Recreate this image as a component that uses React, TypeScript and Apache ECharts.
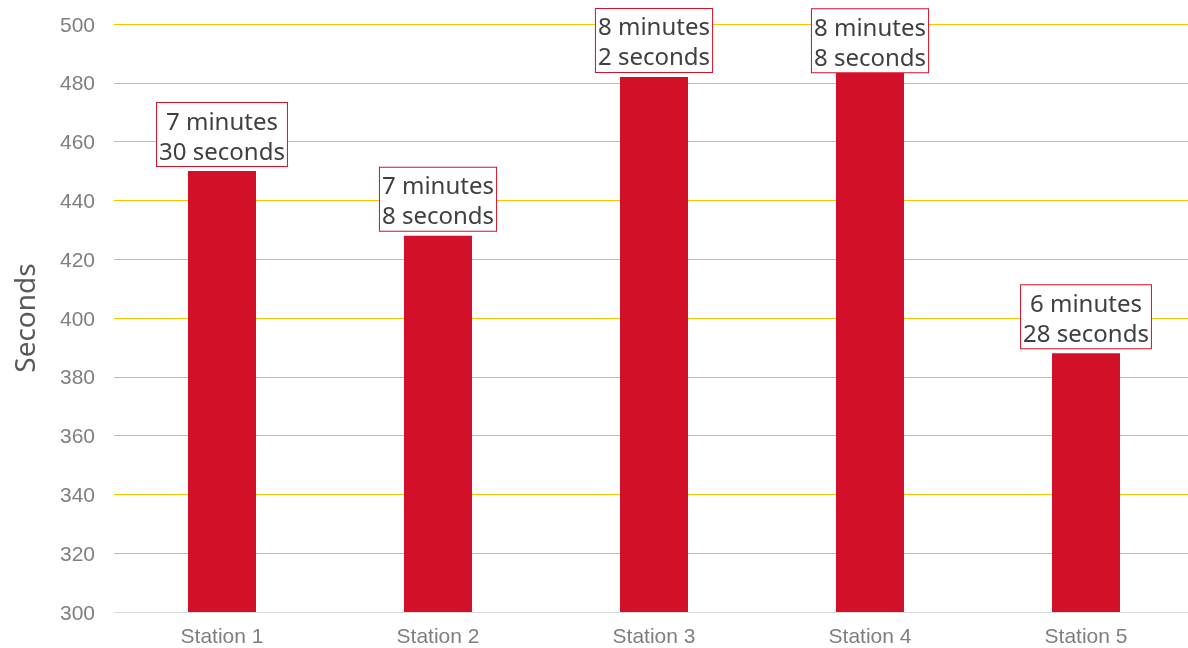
import React, { useEffect, useRef } from "react";
import * as echarts from "echarts";

const categories = ["Station 1", "Station 2", "Station 3", "Station 4", "Station 5"];
const values = [450, 428, 482, 488, 388];
const labelTexts = [
  "7 minutes\n30 seconds",
  "7 minutes\n8 seconds",
  "8 minutes\n2 seconds",
  "8 minutes\n8 seconds",
  "6 minutes\n28 seconds",
];
const labelShift = [0, 0, 0, 18, 0];

export default function App() {
  const ref = useRef<HTMLDivElement>(null);
  useEffect(() => {
    const chart = echarts.init(ref.current!, null, { renderer: "svg" });
    chart.setOption({
      animation: false,
      grid: { left: 114, right: -6, top: 24, bottom: 36, outerBoundsMode: "none", containLabel: false },
      xAxis: {
        type: "category",
        data: categories,
        axisTick: { show: false },
        axisLine: { lineStyle: { color: "#d9d9d9" } },
        axisLabel: { color: "#7f7f7f", fontSize: 21, fontFamily: "Liberation Sans", margin: 13 },
      },
      yAxis: {
        type: "value",
        min: 300,
        max: 500,
        interval: 20,
        name: "Seconds",
        nameLocation: "middle",
        nameGap: 76,
        nameTextStyle: { color: "#595959", fontSize: 28, fontFamily: "Noto Sans" },
        axisLabel: { color: "#7f7f7f", fontSize: 21, fontFamily: "Liberation Sans", margin: 19 },
        splitLine: { lineStyle: { color: "#ffc000", width: 1 } },
      },
      series: [
        {
          type: "bar",
          barWidth: 68,
          itemStyle: { color: "#d2102a" },
          data: values.map((v, i) => ({
            value: v,
            label: {
              formatter: labelTexts[i],
              offset: [0, labelShift[i]],
            },
          })),
          label: {
            show: true,
            position: "top",
            distance: 5,
            color: "#404040",
            fontSize: 24,
            lineHeight: 30,
            fontFamily: "Noto Sans",
            backgroundColor: "#ffffff",
            borderColor: "#d2102a",
            borderWidth: 1,
            padding: [2, 2, 1, 2],
            align: "center",
          },
        },
      ],
    });
    return () => chart.dispose();
  }, []);
  return (
    <div
      ref={ref}
      style={{ position: "fixed", left: 0, top: 0, width: 1188, height: 648 }}
    />
  );
}
